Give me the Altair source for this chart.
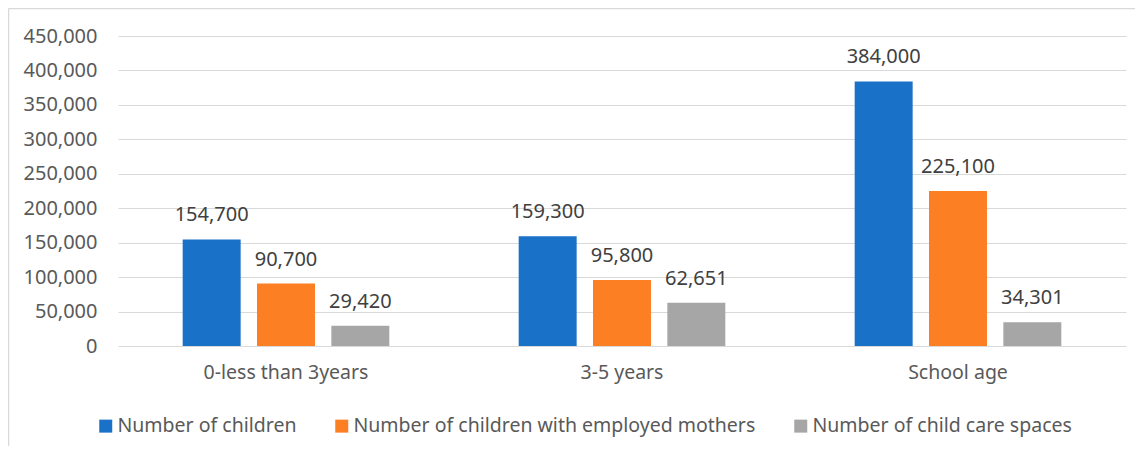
import altair as alt
import pandas as pd

categories = ["0-less than 3years", "3-5 years", "School age"]
series_names = [
    "Number of children",
    "Number of children with employed mothers",
    "Number of child care spaces",
]
children = [154700, 159300, 384000]
employed_mothers = [90700, 95800, 225100]
care_spaces = [29420, 62651, 34301]
y_ticks = [0, 50000, 100000, 150000, 200000, 250000, 300000, 350000, 400000, 450000]
colors = ["#1A71C8", "#FC7F24", "#A6A6A6"]

rows = []
for i, c in enumerate(categories):
    for s, vals in zip(series_names, [children, employed_mothers, care_spaces]):
        rows.append({"category": c, "series": s, "value": vals[i]})
df = pd.DataFrame(rows)

FONT = "Noto Sans"
W, H = 1008, 310

x_enc = alt.X(
    "category:N",
    sort=categories,
    title=None,
    scale=alt.Scale(paddingInner=0.385, paddingOuter=0.1925),
    axis=alt.Axis(
        labelAngle=0,
        ticks=False,
        domain=False,
        labelFontSize=19.5,
        labelFont=FONT,
        labelColor="#595959",
        labelBaseline="middle",
        labelPadding=26,
    ),
)
xoff_enc = alt.XOffset(
    "series:N",
    sort=series_names,
    scale=alt.Scale(paddingInner=0.22, paddingOuter=0),
)
y_enc = alt.Y(
    "value:Q",
    title=None,
    scale=alt.Scale(domain=[0, 450000]),
    axis=alt.Axis(
        values=y_ticks,
        format=",d",
        grid=True,
        gridColor="#d9d9d9",
        gridWidth=1,
        domain=False,
        ticks=False,
        labelOverlap=False,
        labelPadding=21,
        labelFontSize=20,
        labelFont=FONT,
        labelColor="#595959",
    ),
)

base = alt.Chart(df)

bars = base.mark_bar().encode(
    x=x_enc,
    xOffset=xoff_enc,
    y=y_enc,
    color=alt.Color(
        "series:N",
        sort=series_names,
        scale=alt.Scale(domain=series_names, range=colors),
        legend=alt.Legend(title=None),
    ),
)

labels = base.mark_text(
    dy=-18, baseline="alphabetic", fontSize=20, font=FONT, color="#404040"
).encode(
    x=x_enc,
    xOffset=xoff_enc,
    y=y_enc,
    text=alt.Text("value:Q", format=",d"),
)

one = pd.DataFrame({"a": [0]})
top_border = alt.Chart(one).mark_rule(color="#d9d9d9", strokeWidth=1.5).encode(
    x=alt.value(-109.5), x2=alt.value(1030), y=alt.value(-27.5)
)
left_border = alt.Chart(one).mark_rule(color="#d9d9d9", strokeWidth=1.5).encode(
    x=alt.value(-109.5), y=alt.value(-27.5), y2=alt.value(430)
)

chart = (
    alt.layer(bars, labels, top_border, left_border)
    .properties(
        width=W,
        height=H,
        background="white",
        padding={"left": 110, "top": 28, "right": 9, "bottom": 100},
        autosize=alt.AutoSizeParams(type="none"),
    )
    .configure_view(stroke=None)
    .configure_legend(
        orient="none",
        legendX=-22,
        legendY=380,
        direction="horizontal",
        symbolType="square",
        symbolSize=169,
        symbolStrokeWidth=0,
        labelFontSize=19.5,
        labelFont=FONT,
        labelColor="#595959",
        labelOffset=2,
        labelLimit=600,
        columnPadding=35,
    )
)

chart.save("out.html", embed_options={"renderer": "svg", "actions": False})
